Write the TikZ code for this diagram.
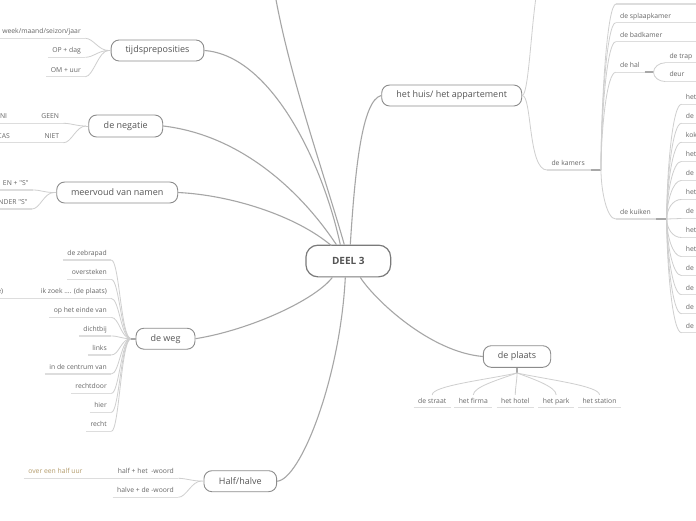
\documentclass[tikz,border=0pt]{standalone}
\usepackage{fontspec}
\setmainfont{Open Sans}[Ligatures=TeXOff]
\usetikzlibrary{calc}
\definecolor{maintext}{HTML}{555555}
\definecolor{leaftext}{HTML}{666666}
\definecolor{nodeb}{HTML}{8C8C8C}
\definecolor{deelb}{HTML}{7A7A7A}
\definecolor{linkc}{HTML}{A6A6A6}
\definecolor{sublinkc}{HTML}{CFCFCF}
\definecolor{ulc}{HTML}{DDDDDD}
\definecolor{stubc}{HTML}{A8A8A8}
\definecolor{tanc}{HTML}{B49C6C}
\begin{document}
\begin{tikzpicture}[x=1pt,y=-1pt,
  mainnode/.style={draw=nodeb, line width=0.9pt, fill=white, rounded corners=8pt, text=maintext, font=\fontsize{9}{11}\selectfont, inner sep=0pt},
  leaf/.style={text=leaftext, font=\fontsize{6.8}{8}\selectfont, inner xsep=4.3pt, inner ysep=3pt, text height=5pt, text depth=1.4pt},
  mainlink/.style={draw=linkc, line width=1.1pt},
  sublink/.style={draw=sublinkc, line width=0.8pt},
  uline/.style={draw=ulc, line width=1.3pt},
  stubline/.style={draw=stubc, line width=1.8pt},
  lcurve/.style={out=0,in=180,out distance=8pt,in distance=10pt},
  upcurve/.style={out=90,in=180,in distance=9pt},
  downcurve/.style={out=-90,in=180,in distance=9pt}
]
\useasboundingbox (0,0) rectangle (696,520);
\fill[white] (0,0) rectangle (696,520);
\clip (0,0) rectangle (696,520);
\coordinate (ledge) at (-10,0);
\coordinate (redge) at (710,0);

% ---------- main nodes
\node[mainnode, font={\fontsize{10}{12}\selectfont\bfseries}, minimum width=84.7pt, minimum height=31.7pt, rounded corners=12pt, line width=1.2pt, draw=deelb] (deel) at (348.3,261) {DEEL 3};
\node[mainnode, minimum width=92.7pt, minimum height=21pt] (tijd) at (157.5,50.5) {tijdspreposities};
\node[mainnode, minimum width=74pt, minimum height=22pt] (neg) at (125.7,126) {de negatie};
\node[mainnode, minimum width=121pt, minimum height=21pt] (meer) at (117.2,192.5) {meervoud van namen};
\node[mainnode, minimum width=59pt, minimum height=21pt] (weg) at (165.5,338.7) {de weg};
\node[mainnode, minimum width=72.7pt, minimum height=21pt] (half) at (240.3,481.2) {Half/halve};
\node[mainnode, minimum width=140pt, minimum height=21pt] (huis) at (451.7,95.5) {het huis/ het appartement};
\node[mainnode, minimum width=67.4pt, minimum height=21.6pt] (plaats) at (517,356.5) {de plaats};

% ---------- main links
\coordinate (offtop) at (270,-40);
\draw[mainlink] ($(deel.north)+(-4,0)$) .. controls (320,160) and (280,50) .. (offtop);
\draw[mainlink] ($(deel.north)+(-8,0)$) .. controls (322,160) and (270,55) .. (tijd.east);
\draw[mainlink] ($(deel.north)+(-12,0)$) .. controls (300,190) and (240,135) .. (neg.east);
\draw[mainlink] ($(deel.north)+(-17,1)$) .. controls (295,215) and (230,195) .. (meer.east);
\draw[mainlink] ($(deel.north)+(2,0)$) .. controls (355,170) and (362,100) .. (huis.west);
\draw[mainlink] ($(deel.south)+(-16,0)$) .. controls (315,300) and (250,330) .. (weg.east);
\draw[mainlink] ($(deel.south)+(-3,0)$) .. controls (340,380) and (300,480) .. (half.east);
\draw[mainlink] ($(deel.south)+(12,0)$) .. controls (375,300) and (430,352) .. (plaats.west);

% ---------- tijdsprepositities
\node[leaf, anchor=south east] (t1) at (85.3,38.3) {week/maand/seizon/jaar};
\node[leaf, anchor=south east] (t2) at (85.3,57.3) {OP + dag};
\node[leaf, anchor=south east] (t3) at (85.3,76.7) {OM + uur};
\coordinate (tj) at (108.5,50.5);
\draw[uline] (t1.south east) -- (t1.south east -| ledge);
\draw[uline] (t2.south west) -- (t2.south east);
\draw[uline] (t3.south west) -- (t3.south east);
\foreach \n in {t1,t2,t3} \draw[sublink] (\n.south east) to[lcurve] (tj);
\draw[sublink] (tj) -- (tijd.west);

% ---------- de negatie
\node[leaf, anchor=south east] (n1) at (63.6,123.3) {GEEN};
\node[leaf, anchor=south east] (n1a) at (11.6,123.3) {NI};
\node[leaf, anchor=south east] (n2) at (63.6,142.7) {NIET};
\node[leaf, anchor=south east] (n2a) at (14.3,142.7) {CAS};
\coordinate (nj) at (86,126);
\draw[uline] (n1.south east) -- (n1.south east -| ledge);
\draw[uline] (n2.south east) -- (n2.south east -| ledge);
\foreach \n in {n1,n2} \draw[sublink] (\n.south east) to[lcurve] (nj);
\draw[sublink] (nj) -- (neg.west);

% ---------- meervoud van namen
\node[leaf, anchor=south east] (m1) at (33,190) {EN + "S"};
\node[leaf, anchor=south east] (m2) at (32,209) {NDER "S"};
\coordinate (mj) at (54,192.5);
\draw[uline] (m1.south east) -- (m1.south east -| ledge);
\draw[uline] (m2.south east) -- (m2.south east -| ledge);
\foreach \n in {m1,m2} \draw[sublink] (\n.south east) to[lcurve] (mj);
\draw[sublink] (mj) -- (meer.west);

% ---------- de weg
\node[leaf, anchor=south east] (w1) at (111.3,260) {de zebrapad};
\node[leaf, anchor=south east] (w2) at (111.3,279.4) {oversteken};
\node[leaf, anchor=south east] (w3) at (111.3,298.4) {ik zoek .... (de plaats)};
\node[leaf, anchor=south east] (w4) at (111.3,317.4) {op het einde van};
\node[leaf, anchor=south east] (w5) at (111.3,336) {dichtbij};
\node[leaf, anchor=south east] (w6) at (111.3,355) {links};
\node[leaf, anchor=south east] (w7) at (111.3,374) {in de centrum van};
\node[leaf, anchor=south east] (w8) at (111.3,393.4) {rechtdoor};
\node[leaf, anchor=south east] (w9) at (111.3,412.4) {hier};
\node[leaf, anchor=south east] (w10) at (111.3,431.4) {recht};
\foreach \i in {1,2,4,5,6,7,8,9,10} \draw[uline] (w\i.south west) -- (w\i.south east);
\node[leaf, anchor=south east] (w3a) at (7.6,298.4) {e)};
\draw[uline] (w3.south east) -- (w3.south east -| ledge);
\coordinate (wj) at (131,338.7);
\foreach \i in {1,2,3,4,5,6,7,8,9,10} \draw[sublink] (w\i.south east) to[lcurve] (wj);
\draw[stubline] (wj) -- (weg.west);

% ---------- Half/halve
\node[leaf, anchor=south east] (h1) at (178.3,478.3) {half + het\ \ -woord};
\node[leaf, anchor=south east, text=tanc] (h1a) at (87,478.3) {over een half uur};
\node[leaf, anchor=south east] (h2) at (178.3,497.3) {halve + de -woord};
\coordinate (hj) at (201.5,481);
\draw[uline] (h1a.south west) -- (h1.south east);
\draw[uline] (h2.south west) -- (h2.south east);
\foreach \n in {h1,h2} \draw[sublink] (\n.south east) to[lcurve] (hj);
\draw[sublink] (hj) -- (half.west);

% ---------- het huis
\coordinate (hx) at (545,-30);
\node[leaf, anchor=south west] (kam) at (547,170) {de kamers};
\coordinate (kj) at (601,170);
\draw[sublink] (huis.east) .. controls (531,95) and (532,-30) .. (hx);
\draw[sublink] (huis.east) .. controls (532,95) and (528,170) .. (kam.south west);
\draw[uline] (kam.south west) -- (kj);
\draw[stubline] ($(kj)+(-10,0)$) -- (kj);

\coordinate (k0) at (616,4);
\node[leaf, anchor=south west] (k1) at (615.7,22.7) {de splaapkamer};
\node[leaf, anchor=south west] (k2) at (615.7,41.7) {de badkamer};
\node[leaf, anchor=south west] (k3) at (615.7,72.3) {de hal};
\node[leaf, anchor=south west] (kk) at (615.7,219) {de kuiken};
\draw[uline] (k0) -- (k0 -| redge);
\draw[uline] (k1.south west) -- (k1.south west -| redge);
\draw[uline] (k2.south west) -- (k2.south west -| redge);
\coordinate (halj) at (653.5,72.3);
\coordinate (kuj1) at (656,219);
\coordinate (kuj2) at (666.7,219);
\draw[uline] (k3.south west) -- (halj);
\draw[uline] (kk.south west) -- (kuj1);
\draw[stubline] (kuj1) -- (kuj2);
\draw[stubline] ($(halj)+(-9,0)$) -- (halj);
\draw[sublink] (kj) to[upcurve] (k0);
\foreach \n in {k1,k2,k3} \draw[sublink] (kj) to[upcurve] (\n.south west);
\draw[sublink] (kj) to[downcurve] (kk.south west);

% de hal
\node[leaf, anchor=south west] (hl1) at (665,62.8) {de trap};
\node[leaf, anchor=south west] (hl2) at (665,81.5) {deur};
\draw[uline] (hl1.south west) -- (hl1.south west -| redge);
\draw[uline] (hl2.south west) -- (hl2.south west -| redge);
\draw[sublink] (halj) to[out=90,in=180,out distance=5pt,in distance=6pt] (hl1.south west);
\draw[sublink] (halj) to[out=-90,in=180,out distance=5pt,in distance=6pt] (hl2.south west);

% de kuiken
\foreach \i/\t in {0/het,1/de,2/kok,3/het,4/de,5/het,6/de,7/het,8/het,9/de,10/de,11/de,12/de}{
  \node[leaf, anchor=south west] (kc\i) at (681.4,104.3+19.03*\i) {\t};
  \draw[uline] (kc\i.south west) -- (kc\i.south west -| redge);
}
\foreach \i in {0,1,2,3,4,5} \draw[sublink] (kuj2) to[upcurve] (kc\i.south west);
\draw[sublink] (kuj2) -- (kc6.south west);
\foreach \i in {7,8,9,10,11,12} \draw[sublink] (kuj2) to[downcurve] (kc\i.south west);

% ---------- de plaats
\node[leaf, anchor=south] (p1) at (432.2,407.7) {de straat};
\node[leaf, anchor=south] (p2) at (473.3,407.7) {het firma};
\node[leaf, anchor=south] (p3) at (515.3,407.7) {het hotel};
\node[leaf, anchor=south] (p4) at (556.2,407.7) {het park};
\node[leaf, anchor=south] (p5) at (599.5,407.7) {het station};
\foreach \n in {p1,p2,p3,p4,p5} \draw[uline] (\n.south west) -- (\n.south east);
\coordinate (pj) at (517,373);
\draw[stubline] (plaats.south) -- (pj);
\draw[sublink] (pj) to[out=192,in=90,in distance=9pt] (p1.north);
\draw[sublink] (pj) to[out=200,in=90,in distance=8pt] (p2.north);
\draw[sublink] (pj) to[out=-90,in=90] (p3.north);
\draw[sublink] (pj) to[out=-20,in=90,in distance=8pt] (p4.north);
\draw[sublink] (pj) to[out=-12,in=90,in distance=9pt] (p5.north);
\end{tikzpicture}
\end{document}
